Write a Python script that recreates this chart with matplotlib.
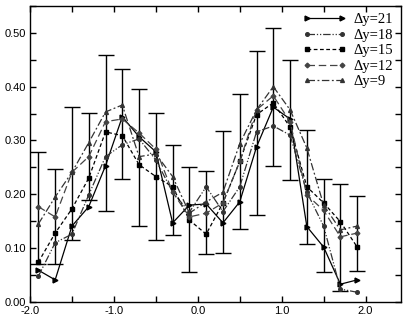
import matplotlib
matplotlib.use("Agg")
from matplotlib import pyplot as plt
from matplotlib.ticker import MultipleLocator, FormatStrFormatter
import numpy as np

x = [-1.9, -1.7, -1.5, -1.3, -1.1, -0.9, -0.7, -0.5, -0.3, -0.1,
     0.1, 0.3, 0.5, 0.7, 0.9, 1.1, 1.3, 1.5, 1.7, 1.9]

dy21 = [0.059, 0.041, 0.141, 0.177, 0.253, 0.344, 0.307, 0.279, 0.147, 0.180,
        0.182, 0.147, 0.186, 0.288, 0.362, 0.340, 0.140, 0.102, 0.033, 0.041]
dy18 = [0.048, 0.110, 0.126, 0.199, 0.270, 0.292, 0.303, 0.264, 0.204, 0.167,
        0.214, 0.168, 0.214, 0.316, 0.327, 0.310, 0.204, 0.141, 0.024, 0.018]
dy15 = [0.074, 0.128, 0.173, 0.230, 0.316, 0.309, 0.255, 0.233, 0.214, 0.152,
        0.126, 0.184, 0.261, 0.348, 0.370, 0.325, 0.214, 0.184, 0.149, 0.102]
dy12 = [0.177, 0.158, 0.241, 0.270, 0.335, 0.340, 0.314, 0.284, 0.204, 0.158,
        0.165, 0.184, 0.261, 0.357, 0.383, 0.335, 0.199, 0.170, 0.121, 0.128]
dy9 = [0.145, 0.195, 0.241, 0.296, 0.353, 0.366, 0.270, 0.275, 0.233, 0.165,
       0.186, 0.204, 0.294, 0.357, 0.400, 0.357, 0.286, 0.180, 0.134, 0.141]

# error bar extents (lower / upper end at each x)
err_low = [0.071, 0.071, 0.115, 0.190, 0.169, 0.229, 0.141, 0.115, 0.124, 0.056,
           0.089, 0.091, 0.136, 0.162, 0.253, 0.227, 0.108, 0.056, 0.020, 0.058]
err_high = [0.279, 0.247, 0.362, 0.351, 0.459, 0.433, 0.396, 0.351, 0.292, 0.251,
            0.243, 0.318, 0.387, 0.467, 0.509, 0.450, 0.320, 0.228, 0.219, 0.197]

labels = ["Δy=21", "Δy=18", "Δy=15", "Δy=12", "Δy=9"]

fig = plt.figure(figsize=(4.19, 3.30), dpi=100)
ax = fig.add_axes([0.0716, 0.085, 0.885, 0.897])

lo = np.array(err_low)
hi = np.array(err_high)
mid = (lo + hi) / 2
ax.errorbar(x, mid, yerr=[mid - lo, hi - mid], fmt='none', ecolor='black',
            elinewidth=1.0, capsize=5.5, capthick=1.0)

series = [dy21, dy18, dy15, dy12, dy9]
styles = [
    dict(color='black', linestyle='-', marker='>', markersize=3.5),
    dict(color='#333333', linestyle=(0, (6, 1.5, 1, 1.5, 1, 1.5)), marker='o', markersize=2.6),
    dict(color='black', linestyle=(0, (3, 2)), marker='s', markersize=2.4),
    dict(color='#444444', linestyle=(0, (6, 3)), marker='D', markersize=2.4),
    dict(color='#333333', linestyle=(0, (6, 2, 1.5, 2)), marker='^', markersize=2.8),
]
for ys, lab, st in zip(series, labels, styles):
    ax.plot(x, ys, label=lab, linewidth=0.9, **st)

ax.set_xlim(-2.0, 2.42)
ax.set_ylim(0.0, 0.55)
ax.xaxis.set_major_locator(MultipleLocator(1.0))
ax.xaxis.set_minor_locator(MultipleLocator(0.5))
ax.yaxis.set_major_locator(MultipleLocator(0.1))
ax.yaxis.set_minor_locator(MultipleLocator(0.05))
ax.xaxis.set_major_formatter(FormatStrFormatter('%.1f'))
ax.yaxis.set_major_formatter(FormatStrFormatter('%.2f'))
ax.set_yticks([0.0, 0.1, 0.2, 0.3, 0.4, 0.5])

ax.tick_params(which='both', direction='in', top=True, right=True, width=1.0)
ax.tick_params(which='major', length=4, labelsize=8, pad=3)
ax.tick_params(which='minor', length=4)
for lbl in ax.get_xticklabels() + ax.get_yticklabels():
    lbl.set_family('Liberation Sans')
for sp in ax.spines.values():
    sp.set_linewidth(1.0)

ax.legend(loc='upper right', frameon=False, numpoints=2, handlelength=3.0,
          prop={'family': 'Liberation Serif', 'size': 10.5},
          labelspacing=0.15, handletextpad=0.5, borderaxespad=0.1,
          bbox_to_anchor=(1.0, 1.0))

fig.savefig('out.png', dpi=100)
